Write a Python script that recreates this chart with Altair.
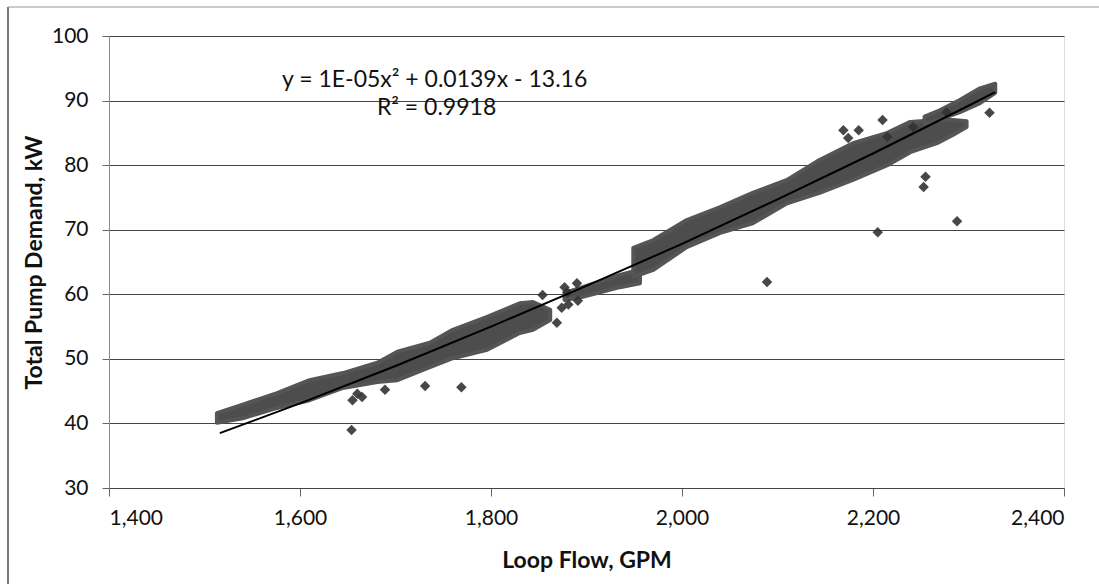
import altair as alt
import pandas as pd

# ---- data ----
# dense cloud of readings, described as lower/upper envelopes per segment
segA_x  = [1513, 1540, 1576, 1610, 1645, 1681, 1702, 1736, 1760, 1796, 1830, 1844, 1862]
segA_lo = [40.1, 40.8, 42.4, 43.6, 45.5, 46.4, 46.7, 48.7, 50.1, 51.4, 54.0, 54.5, 56.0]
segA_hi = [41.6, 42.9, 44.7, 46.7, 47.8, 49.4, 51.1, 52.5, 54.5, 56.5, 58.6, 58.8, 57.6]

segB_x  = [1877, 1896, 1935, 1956]
segB_lo = [59.1, 59.6, 61.1, 61.7]
segB_hi = [60.2, 61.1, 63.0, 63.8]

segC_x  = [1949, 1970, 2005, 2040, 2074, 2110, 2144, 2179, 2215, 2239, 2267, 2284, 2298]
segC_lo = [62.7, 63.8, 67.3, 69.5, 71.0, 74.1, 75.7, 77.7, 80.0, 82.0, 83.4, 84.7, 85.9]
segC_hi = [67.2, 68.4, 71.5, 73.5, 75.7, 77.7, 80.8, 83.4, 85.0, 86.7, 87.0, 87.0, 86.8]

segD_x  = [2254, 2270, 2291, 2312, 2328]
segD_lo = [86.4, 87.1, 88.2, 89.6, 91.2]
segD_hi = [87.5, 88.5, 90.1, 91.9, 92.6]

# isolated readings (diamonds)
out_x = [1654, 1655, 1665, 1660, 1689, 1731, 1769, 1854, 1869, 1874, 1881, 1891, 1877,
         1890, 1880, 2089, 2205, 2288, 2255, 2253, 2169, 2174, 2185, 2210, 2322, 2215,
         2242, 2277]
out_y = [39.0, 43.6, 44.1, 44.6, 45.2, 45.8, 45.6, 59.9, 55.6, 57.9, 58.4, 59.0, 61.1,
         61.7, 60.3, 61.9, 69.6, 71.3, 78.2, 76.6, 85.4, 84.2, 85.4, 87.0, 88.1, 84.4,
         85.9, 88.2]

# polynomial trend line, read along its path
trend_x = [1516, 1600, 1700, 1800, 1900, 2000, 2100, 2200, 2300, 2328]
trend_y = [38.5, 43.1, 48.9, 55.0, 61.3, 67.8, 74.7, 81.8, 89.2, 91.3]

eq_text = ["y = 1E-05x² + 0.0139x - 13.16", "R² = 0.9918"]
eq_x = [1741, 1743]
eq_y = [93.2, 88.85]

x_ticks = [1400, 1600, 1800, 2000, 2200, 2400]
y_ticks = [30, 40, 50, 60, 70, 80, 90, 100]

# ---- tables ----
rows = []
for name, xs, lo, hi in [("A", segA_x, segA_lo, segA_hi), ("B", segB_x, segB_lo, segB_hi),
                         ("C", segC_x, segC_lo, segC_hi), ("D", segD_x, segD_lo, segD_hi)]:
    for a, b, c in zip(xs, lo, hi):
        rows.append({"seg": name, "x": a, "lo": b, "hi": c})
band_df = pd.DataFrame(rows)
out_df = pd.DataFrame({"x": out_x, "y": out_y})
trend_df = pd.DataFrame({"x": trend_x, "y": trend_y})
eq_df = pd.DataFrame({"x": eq_x, "y": eq_y, "t": eq_text})

FONT = "Lato"
xscale = alt.Scale(domain=[1400, 2400], nice=False, zero=False)
yscale = alt.Scale(domain=[30, 100], nice=False, zero=False)

xax = alt.Axis(values=x_ticks, format=",.0f", grid=False, title="Loop Flow, GPM",
               titleFont=FONT, titleFontSize=23, titleFontWeight="bold", titleColor="#111",
               labelFont=FONT, labelFontSize=21, labelColor="#111", labelPadding=11,
               tickSize=8, tickColor="#666", domainColor="#444", titlePadding=21)
yax = alt.Axis(values=y_ticks, format=".0f", grid=True, gridColor="#444", gridWidth=1,
               title="Total Pump Demand, kW", titleFont=FONT, titleFontSize=23,
               titleFontWeight="bold", titleColor="#111", titlePadding=5,
               labelFont=FONT, labelFontSize=21, labelColor="#111", labelPadding=14,
               tickSize=7, tickColor="#666", domainColor="#888")

X = alt.X("x:Q", scale=xscale, axis=xax)

band = alt.Chart(band_df).mark_area(color="#4d4d4d", stroke="#555", strokeWidth=4,
                                    strokeJoin="round", interpolate="linear").encode(
    x=X,
    y=alt.Y("lo:Q", scale=yscale, axis=yax),
    y2="hi:Q",
    detail="seg:N",
)

pts = alt.Chart(out_df).mark_point(shape="diamond", filled=True, size=110,
                                   color="#333", opacity=0.9).encode(
    x=X, y=alt.Y("y:Q", scale=yscale, axis=yax))

line = alt.Chart(trend_df).mark_line(color="#000", strokeWidth=2).encode(
    x=X, y=alt.Y("y:Q", scale=yscale, axis=yax))

txt = alt.Chart(eq_df).mark_text(font=FONT, fontSize=23, color="#111",
                                 align="center", baseline="middle").encode(
    x=X, y=alt.Y("y:Q", scale=yscale, axis=yax), text="t:N")

frame_df = pd.DataFrame({"k": [0]})
left_frame = alt.Chart(frame_df).mark_rule(color="#777", strokeWidth=2).encode(
    x=alt.value(-101), y=alt.value(-29), y2=alt.value(560))
top_frame = alt.Chart(frame_df).mark_rule(color="#999", strokeWidth=1).encode(
    x=alt.value(-101), x2=alt.value(990), y=alt.value(-29))

chart = alt.layer(band, pts, line, txt, left_frame, top_frame).properties(
    width=955, height=452,
    padding={"left": 109, "top": 36, "right": 35, "bottom": 96},
    autosize=alt.AutoSizeParams(type="none"),
).configure_view(stroke=None).configure(background="white")

chart.save("out.html", embed_options={"renderer": "svg", "actions": False})
